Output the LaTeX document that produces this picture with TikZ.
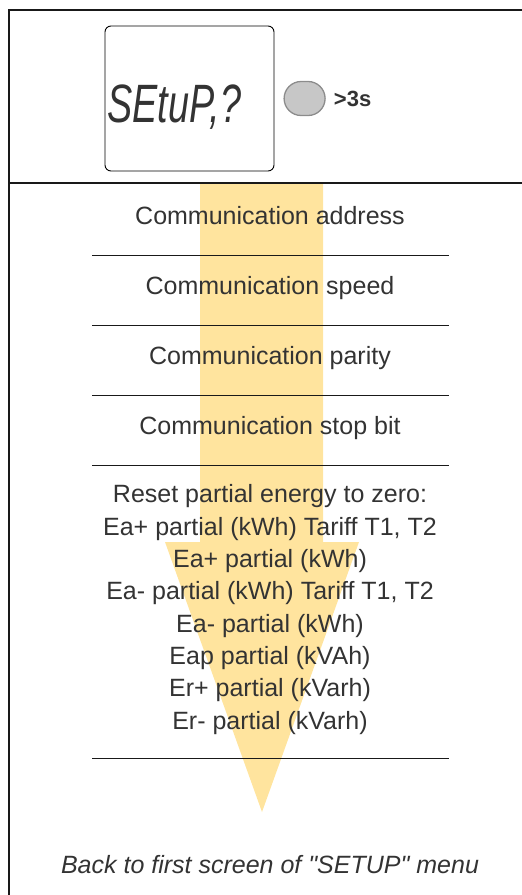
\documentclass[tikz,border=0pt]{standalone}
\usepackage{fontspec}
\setmainfont{Liberation Sans}
\newfontfamily\backfont{Liberation Sans}
\usepackage{xcolor}
\usetikzlibrary{
  positioning,
  shapes.misc,
}
\definecolor{flowyellow}{HTML}{FFE49E}
\definecolor{inkgray}{HTML}{333333}
\tikzset{
  frame line/.style={
    draw,
    black!90,
    line width=1.1pt
  },
  sep line/.style={
    draw,
    black!90,
    line width=1pt
  },
  menu item/.style={
    anchor=base,
    inner sep=0pt,
    text=inkgray,
    align=center,
    font=\fontsize{25}{32.3}\selectfont
  },
  lcd box/.style={
    draw,
    rounded corners=6pt,
    line width=0.9pt,
    minimum width=169pt,
    minimum height=145pt
  },
  key box/.style={
    rounded rectangle,
    draw=black!45,
    fill=black!22,
    line width=1.3pt,
    minimum width=41pt,
    minimum height=34pt,
    inner sep=0pt
  }
}

\begin{document}
\begin{tikzpicture}[x=1pt, y=-1pt]
  \useasboundingbox (0,0) rectangle (522,895);

  %% flow arrow
  \fill[flowyellow] (200,183) -- (323,183) -- (323,542) -- (359,542)
    -- (262,812) -- (165,542) -- (200,542) -- cycle;

  %% frame
  \draw[frame line] (522,10) -- (9,10) -- (9,895);
  \draw[frame line] (9,183) -- (522,183);

  %% display and key
  \node[lcd box] (lcd) at (189.5,98.5) {};
  \node[anchor=base west, inner sep=0pt, text=inkgray,
        font=\fontsize{54}{54}\selectfont\itshape] (lcdtext) at (107,122)
        {\scalebox{0.7}[1]{SEtuP,?}};
  \node[key box, right=9pt of lcd] (key) {};
  \node[right=8pt of key, inner sep=0pt, text=inkgray,
        font=\fontsize{22}{22}\selectfont\bfseries] (hold) {>3s};

  %% menu entries
  \node[menu item] (addr)   at (270,224.5) {Communication address};
  \node[menu item] (speed)  at (270,294.5) {Communication speed};
  \node[menu item] (parity) at (270,364.5) {Communication parity};
  \node[menu item] (stop)   at (270,434.5) {Communication stop bit};
  % base of a multi-line node is its last line
  \node[menu item] (reset)  at (270,729) {Reset partial energy to zero:\\
    Ea+ partial (kWh) Tariff T1, T2\\
    Ea+ partial (kWh)\\
    Ea- partial (kWh) Tariff T1, T2\\
    Ea- partial (kWh)\\
    Eap partial (kVAh)\\
    Er+ partial (kVarh)\\
    Er- partial (kVarh)};

  \draw[sep line] (92,255) -- (449,255);
  \draw[sep line] (92,325) -- (449,325);
  \draw[sep line] (92,395) -- (449,395);
  \draw[sep line] (92,465) -- (449,465);
  \draw[sep line] (92,758) -- (449,758);

  \node[menu item, font=\backfont\fontsize{25}{30}\selectfont\itshape] (back) at (270,873)
    {Back to first screen of "SETUP" menu};
\end{tikzpicture}
\end{document}
